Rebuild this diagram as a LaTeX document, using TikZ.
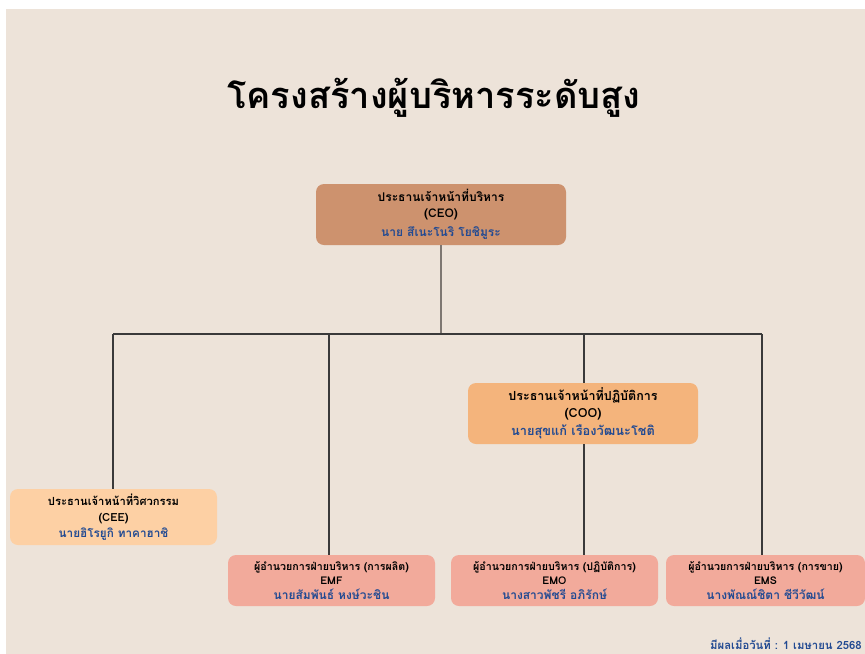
\documentclass[tikz,border=0pt]{standalone}
\usepackage{fontspec}
\newfontfamily\thaifont[Script=Thai]{Loma}
\definecolor{bg}{HTML}{EDE3D9}
\definecolor{ceoc}{HTML}{CD926E}
\definecolor{cooc}{HTML}{F4B47C}
\definecolor{ceec}{HTML}{FDD0A4}
\definecolor{emc}{HTML}{F2AA9B}
\definecolor{nameblue}{HTML}{224A92}
\definecolor{linec}{HTML}{3A3A3A}
\definecolor{graylinec}{HTML}{7E7772}
\begin{document}
\begin{tikzpicture}[x=0.75pt,y=-0.75pt,
  box/.style={rounded corners=6pt, draw=none, align=center, inner sep=0pt,
    font=\thaifont\bfseries\fontsize{9}{11.5}\selectfont},
  coobox/.style={box, font=\thaifont\bfseries\fontsize{9.4}{12.5}\selectfont},
  ceebox/.style={box, font=\thaifont\bfseries\fontsize{8.4}{12}\selectfont},
  smallbox/.style={box, font=\thaifont\bfseries\fontsize{8}{11}\selectfont},
  conn/.style={draw=linec, line width=0.8pt},
  topconn/.style={draw=graylinec, line width=1.1pt}]
\useasboundingbox (0,0) rectangle (865,654);
\fill[white] (0,0) rectangle (865,654);
\fill[bg] (6,9) rectangle (865,654);

\node[font=\thaifont\bfseries\fontsize{27.2}{32}\selectfont] (title) at (434,98) {โครงสร้างผู้บริหารระดับสูง};

\node[box, fill=ceoc, minimum width=187.5pt, minimum height=45.75pt] (ceo) at (441,214.5)
  {ประธานเจ้าหน้าที่บริหาร\\(CEO)\\[3pt]\textcolor{nameblue}{นาย สึเนะโนริ โยชิมูระ}};

\node[coobox, fill=cooc, minimum width=172.5pt, minimum height=45.75pt] (coo) at (583,413.5)
  {ประธานเจ้าหน้าที่ปฏิบัติการ\\(COO)\\[1pt]\textcolor{nameblue}{\fontsize{9.6}{12.5}\selectfont นายสุขแก้ เรืองวัฒนะโชติ}};

\node[ceebox, fill=ceec, minimum width=155.25pt, minimum height=42pt] (cee) at (113.5,517)
  {ประธานเจ้าหน้าที่วิศวกรรม\\(CEE)\\\textcolor{nameblue}{\fontsize{8.8}{12}\selectfont นายฮิโรยูกิ ทาคาฮาชิ}};

\node[smallbox, fill=emc, minimum width=155.25pt, minimum height=38.25pt] (emf) at (331.5,580.5)
  {ผู้อำนวยการฝ่ายบริหาร (การผลิต)\\EMF\\\textcolor{nameblue}{\fontsize{9}{11}\selectfont นายสัมพันธ์ หงษ์วะชิน}};

\node[smallbox, fill=emc, minimum width=155.25pt, minimum height=38.25pt] (emo) at (554.5,580.5)
  {ผู้อำนวยการฝ่ายบริหาร (ปฏิบัติการ)\\EMO\\\textcolor{nameblue}{\fontsize{9}{11}\selectfont นางสาวพัชรี อภิรักษ์}};

\node[smallbox, fill=emc, minimum width=149.25pt, minimum height=38.25pt] (ems) at (765.5,580.5)
  {ผู้อำนวยการฝ่ายบริหาร (การขาย)\\EMS\\\textcolor{nameblue}{\fontsize{9}{11}\selectfont นางพัณณ์ชิตา ชีวีวัฒน์}};

\coordinate (busL) at (113,334);
\coordinate (busR) at (762,334);
\coordinate (d2) at (329,334);
\coordinate (d3) at (584,334);

\draw[topconn] (ceo.south) -- (ceo.south |- busL);
\draw[conn] (busL) -- (busR);
\draw[conn] (busL) -- (busL |- cee.north);
\draw[conn] (d2) -- (d2 |- emf.north);
\draw[conn] (d3) -- (d3 |- coo.north);
\draw[conn] (d3 |- coo.south) -- (d3 |- emo.north);
\draw[conn] (busR) -- (busR |- ems.north);

\node[anchor=base east, text=nameblue, font=\thaifont\bfseries\fontsize{8.5}{10}\selectfont, inner sep=0pt] (eff) at (862,649)
  {มีผลเมื่อวันที่ : 1 เมษายน 2568};
\end{tikzpicture}
\end{document}
